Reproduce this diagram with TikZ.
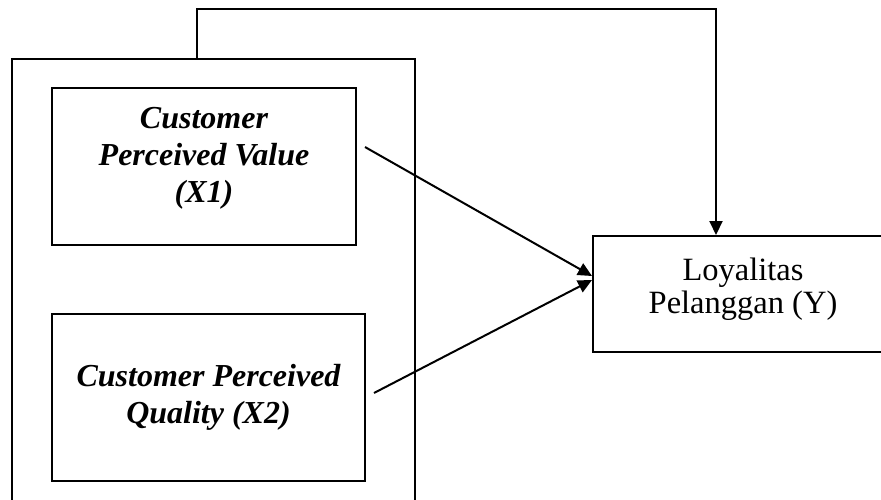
\documentclass[tikz,border=0pt]{standalone}
\usepackage{fontspec}
\setmainfont{Liberation Serif}
\usetikzlibrary{arrows.meta,positioning}
\tikzset{
  varbox/.style={draw=black,line width=2pt,align=center,inner sep=2pt,
    font=\fontsize{32}{37}\selectfont\bfseries\itshape},
  loybox/.style={varbox,font=\fontsize{32.5}{33}\selectfont},
  groupbox/.style={draw=black,line width=2pt,inner sep=0pt},
  mainflow/.style={-{Triangle[length=14pt,width=13pt]},line width=2pt,draw=black}
}
\begin{document}
\begin{tikzpicture}[x=1pt,y=-1pt]
  \useasboundingbox (0,0) rectangle (881,499);
  \clip (0,0) rectangle (881,499);
  \node[groupbox,minimum width=403pt,minimum height=470pt] (grp) at (213.5,294) {};
  \node[varbox,minimum width=304pt,minimum height=157pt,text depth=23pt] (cpv) at (204,166.5) {Customer\\Perceived Value\\(X1)};
  \node[varbox,minimum width=313pt,minimum height=167pt] (cpq) at (208.5,397.5) {Customer Perceived\\Quality (X2)};
  \node[loybox,minimum width=300pt,minimum height=116pt,text depth=17pt] (loy) at (743,294) {Loyalitas\\Pelanggan (Y)};
  \coordinate (jog) at (197,59);
  \coordinate (topbend) at (716,9);
  \coordinate (cpvout) at (365,147);
  \coordinate (cpqout) at (374,393);
  \draw[mainflow] (jog) |- (topbend) -- (topbend |- loy.north);
  \draw[mainflow] (cpvout) -- ([yshift=18pt]loy.west);
  \draw[mainflow] (cpqout) -- ([yshift=14pt]loy.west);
\end{tikzpicture}
\end{document}
